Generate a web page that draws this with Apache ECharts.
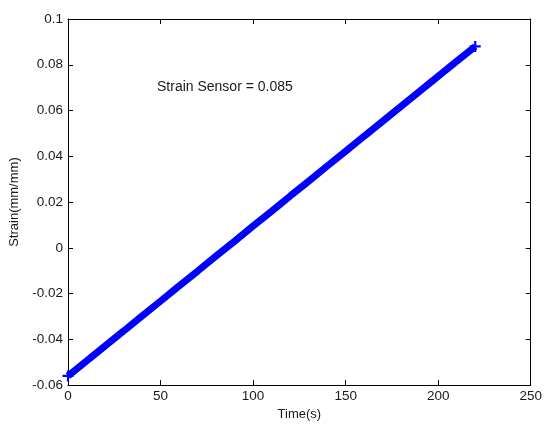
<!DOCTYPE html>
<html>
<head>
<meta charset="utf-8">
<script src="https://cdn.jsdelivr.net/npm/echarts@6/dist/echarts.min.js"></script>
<style>
  html, body { margin: 0; padding: 0; background: #fff; }
  #chart { width: 545px; height: 426px; }
</style>
</head>
<body>
<div id="chart"></div>
<script>
// Sensor strain recorded over time
const timeSec = [0, 10, 20, 30, 40, 50, 60, 70, 80, 90, 100, 110, 120, 130, 140, 150, 160, 170, 180, 190, 200, 210, 220];
const strain = [-0.056, -0.0495, -0.0429, -0.0364, -0.0298, -0.0233, -0.0167, -0.0102, -0.0036, 0.0029, 0.0095, 0.016, 0.0226, 0.0291, 0.0357, 0.0422, 0.0488, 0.0553, 0.0619, 0.0684, 0.075, 0.0815, 0.088];
const annotation = 'Strain Sensor = 0.085';
const xName = 'Time(s)';
const yName = 'Strain(mm/mm)';

const font = 'Liberation Sans, Arial, sans-serif';
const textColor = '#1a1a1a';
const plusSymbol = 'path://M4,0H6V4H10V6H6V10H4V6H0V4H4Z';

const chart = echarts.init(document.getElementById('chart'), null, { renderer: 'canvas' });

const tickStyle = { show: true, inside: true, length: 5, lineStyle: { color: '#000', width: 1 } };
const lineStyle = { show: true, onZero: false, lineStyle: { color: '#000', width: 1 } };
const lastIndex = timeSec.length - 1;

chart.setOption({
  animation: false,
  backgroundColor: '#fff',
  grid: { left: 68, right: 11, top: 19, bottom: 40, containLabel: false },
  xAxis: [
    {
      type: 'value', min: 0, max: 250, interval: 50,
      name: xName, nameLocation: 'middle', nameGap: 17,
      nameTextStyle: { fontFamily: font, fontSize: 13, color: textColor },
      axisLine: lineStyle, axisTick: tickStyle, splitLine: { show: false },
      axisLabel: { fontFamily: font, fontSize: 13.5, color: textColor, margin: 4 }
    },
    {
      type: 'value', min: 0, max: 250, interval: 50, position: 'top',
      axisLine: lineStyle, axisTick: tickStyle, splitLine: { show: false },
      axisLabel: { show: false }
    }
  ],
  yAxis: [
    {
      type: 'value', min: -0.06, max: 0.1, interval: 0.02,
      name: yName, nameLocation: 'middle', nameGap: 44,
      nameTextStyle: { fontFamily: font, fontSize: 13, color: textColor },
      axisLine: lineStyle, axisTick: tickStyle, splitLine: { show: false },
      axisLabel: {
        fontFamily: font, fontSize: 13.5, color: textColor, margin: 5,
        formatter: v => String(parseFloat(v.toFixed(2)))
      }
    },
    {
      type: 'value', min: -0.06, max: 0.1, interval: 0.02, position: 'right',
      axisLine: lineStyle, axisTick: tickStyle, splitLine: { show: false },
      axisLabel: { show: false }
    }
  ],
  series: [
    {
      type: 'line',
      data: timeSec.map((t, i) => [t, strain[i]]),
      showSymbol: true,
      symbol: plusSymbol,
      symbolSize: (val, params) => (params.dataIndex === 0 || params.dataIndex === lastIndex) ? 11 : 0,
      itemStyle: { color: '#0000ff' },
      lineStyle: { color: '#0000ff', width: 7, cap: 'butt' },
      silent: true
    }
  ],
  graphic: [
    {
      type: 'text', left: 157, top: 80,
      style: { text: annotation, fontFamily: font, fontSize: 14, fill: textColor }
    }
  ]
});
</script>
</body>
</html>
